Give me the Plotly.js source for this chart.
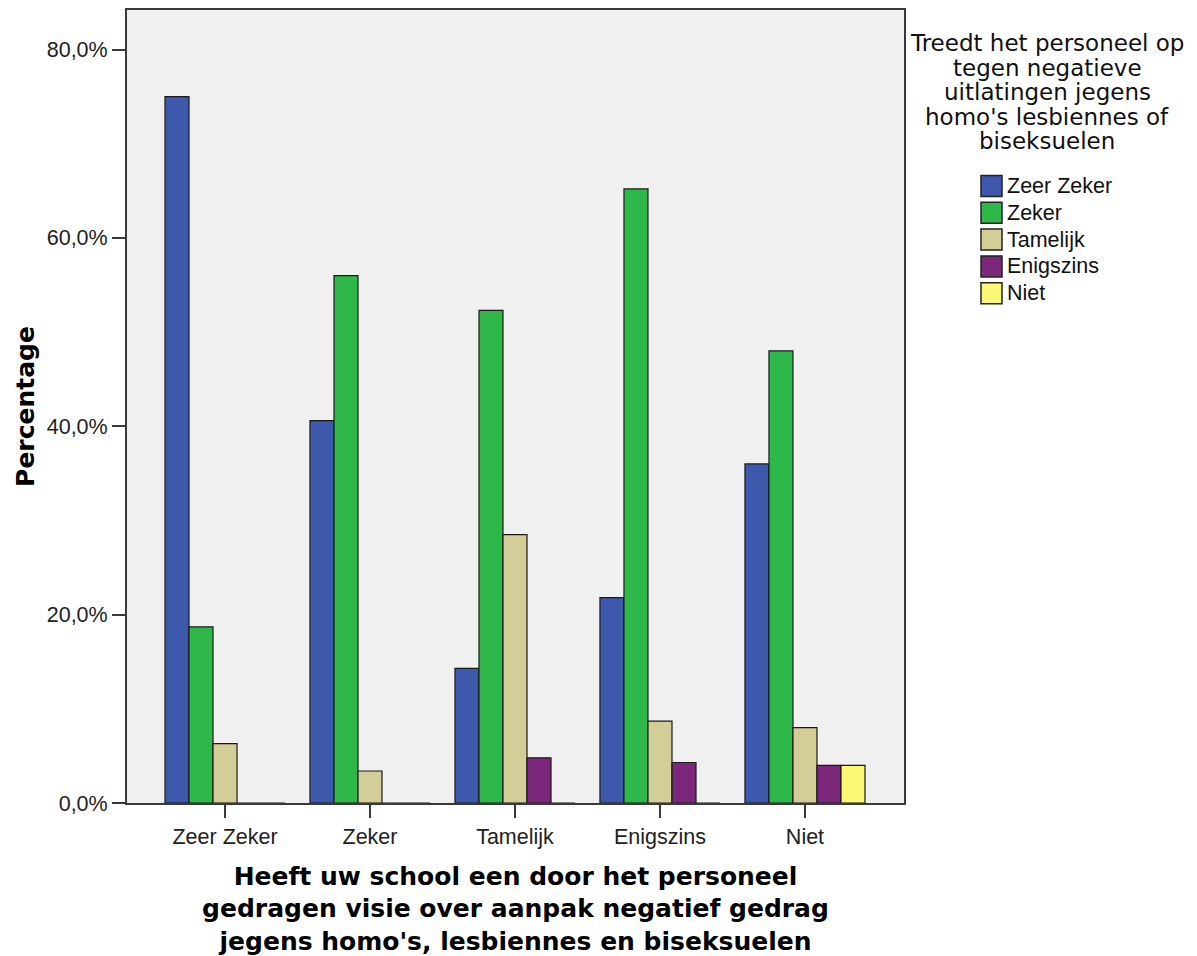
<!DOCTYPE html>
<html>
<head>
<meta charset="utf-8">
<script src="https://cdn.plot.ly/plotly-3.0.1.min.js"></script>
<style>html,body{margin:0;padding:0;background:#fff;}#chart{width:1197px;height:956px;}</style>
</head>
<body>
<div id="chart"></div>
<script>
// Categories (x axis): school vision answer
const categories = ["Zeer Zeker", "Zeker", "Tamelijk", "Enigszins", "Niet"];
// Series: staff intervenes answer
const seriesNames = ["Zeer Zeker", "Zeker", "Tamelijk", "Enigszins", "Niet"];
const zeerZeker = [75.0, 40.6, 14.3, 21.8, 36.0];
const zeker     = [18.7, 56.0, 52.3, 65.2, 48.0];
const tamelijk  = [6.3, 3.4, 28.5, 8.7, 8.0];
const enigszins = [0.0, 0.0, 4.8, 4.3, 4.0];
const niet      = [0.0, 0.0, 0.0, 0.0, 4.0];
const seriesColors = ["#3E58AC", "#2FB84A", "#D3CE97", "#7B287B", "#FBF873"];
const yTickVals = [0, 20, 40, 60, 80];
const yTickText = ["0,0%", "20,0%", "40,0%", "60,0%", "80,0%"];
const legendTitleLines = ["Treedt het personeel op", "tegen negatieve", "uitlatingen jegens", "homo's lesbiennes of", "biseksuelen"];
const xTitle = "Heeft uw school een door het personeel<br>gedragen visie over aanpak negatief gedrag<br>jegens homo's, lesbiennes en biseksuelen";
const yTitle = "Percentage";

const seriesValues = [zeerZeker, zeker, tamelijk, enigszins, niet];

// Plot area in pixels
const W = 1197, H = 956;
const L = 127, R = 904, T = 10, B = 803;
const px = v => (v - L) / (R - L);
const py = v => (B - v) / (B - T);

const traces = seriesNames.map((name, i) => ({
  type: 'bar',
  name: name,
  x: categories,
  y: seriesValues[i],
  marker: { color: seriesColors[i], line: { color: '#1a1a1a', width: 1.2 } },
  showlegend: false,
  hoverinfo: 'skip'
}));

const annotations = [];
const shapes = [];
// legend title
legendTitleLines.forEach((t, i) => {
  annotations.push({
    xref: 'paper', yref: 'paper', x: px(1047), y: py(43 + i * 24.5),
    xanchor: 'center', yanchor: 'middle', showarrow: false, text: t,
    font: { family: 'DejaVu Sans', size: 23, color: '#111' }
  });
});
// legend items
seriesNames.forEach((name, i) => {
  const cy = 186 + i * 26.8;
  shapes.push({
    type: 'rect', xref: 'paper', yref: 'paper',
    x0: px(981), x1: px(1002), y0: py(cy - 10.5), y1: py(cy + 10.5),
    fillcolor: seriesColors[i], line: { color: '#222', width: 1.5 }
  });
  annotations.push({
    xref: 'paper', yref: 'paper', x: px(1005), y: py(cy),
    xanchor: 'left', yanchor: 'middle', showarrow: false, text: name,
    font: { family: 'Liberation Sans, Arial', size: 21.5, color: '#111' }
  });
});

const layout = {
  width: W, height: H,
  margin: { l: L, r: W - R, t: T, b: H - B, pad: 0 },
  paper_bgcolor: '#ffffff',
  plot_bgcolor: '#F0F0F0',
  barmode: 'group',
  bargap: 0.172,
  bargroupgap: 0,
  separators: ',.',
  font: { family: 'Liberation Sans, Arial', color: '#222' },
  xaxis: {
    type: 'category',
    range: [-0.676, 4.683],
    showline: true, mirror: true, linecolor: '#3a3a3a', linewidth: 2,
    ticks: 'outside', ticklen: 13, tickwidth: 2, tickcolor: '#3a3a3a',
    tickfont: { family: 'Liberation Sans, Arial', size: 21.5, color: '#222' },
    showgrid: false, zeroline: false,
    title: { text: xTitle, standoff: 20, font: { family: 'DejaVu Sans', size: 25, color: '#000', weight: 'bold' } }
  },
  yaxis: {
    range: [0, 84.2],
    tickmode: 'array', tickvals: yTickVals, ticktext: yTickText,
    showline: true, mirror: true, linecolor: '#3a3a3a', linewidth: 2,
    ticks: 'outside', ticklen: 13, tickwidth: 2, tickcolor: '#3a3a3a',
    tickfont: { family: 'Liberation Sans, Arial', size: 21.5, color: '#222' },
    showgrid: false, zeroline: false,
    title: { text: yTitle, standoff: 5, font: { family: 'DejaVu Sans', size: 25, color: '#000', weight: 'bold' } }
  },
  annotations: annotations,
  shapes: shapes
};

Plotly.newPlot('chart', traces, layout, { staticPlot: true, displayModeBar: false });
</script>
</body>
</html>
